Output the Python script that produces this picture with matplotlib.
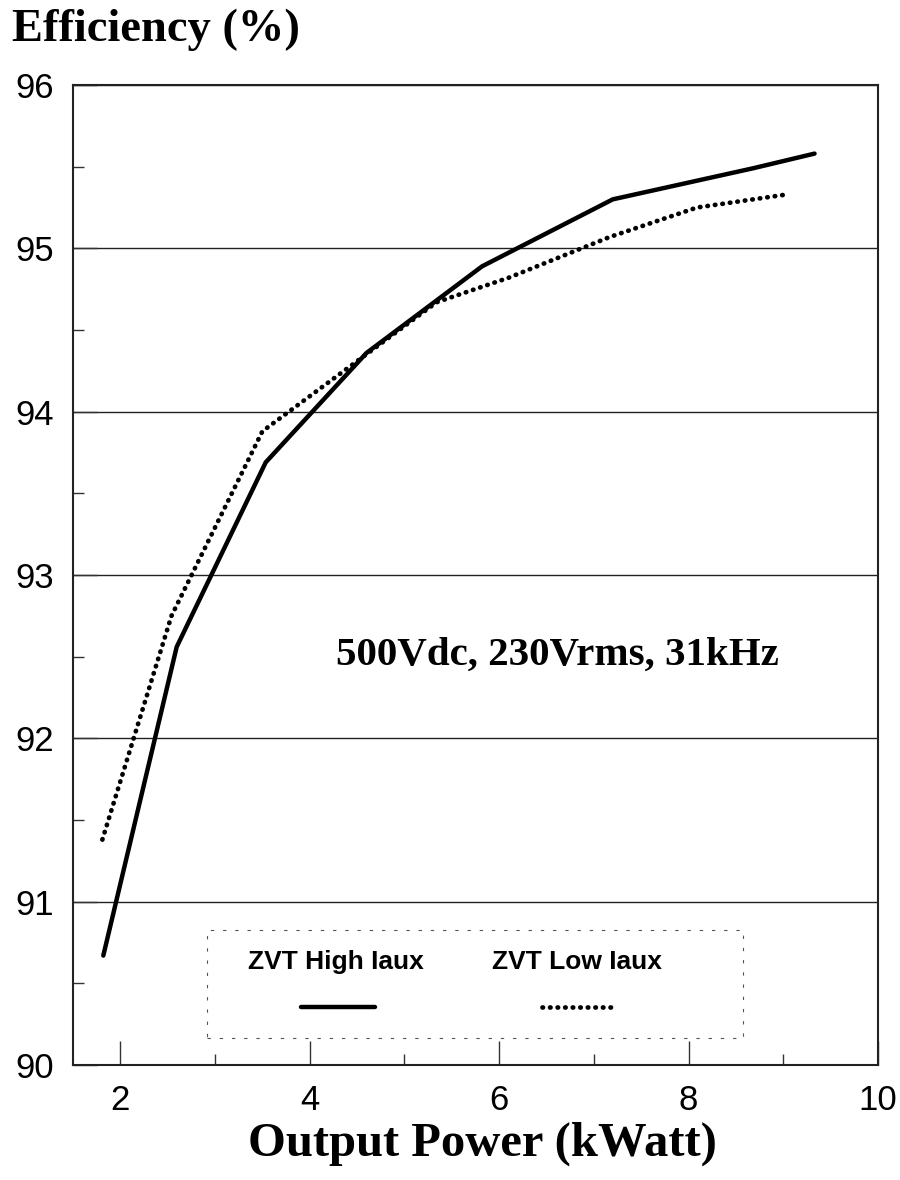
import matplotlib.pyplot as plt
from matplotlib.ticker import MultipleLocator

# Efficiency curves (kW, %)
high_x = [1.82, 2.595, 3.535, 4.60, 5.82, 7.20, 8.68, 9.33]
high_y = [90.67, 92.56, 93.69, 94.36, 94.89, 95.30, 95.49, 95.58]

low_x = [1.81, 2.54, 3.50, 5.34, 6.10, 7.17, 8.09, 9.04]
low_y = [91.38, 92.75, 93.88, 94.67, 94.82, 95.07, 95.25, 95.33]

x_ticks = [2, 4, 6, 8, 10]
y_ticks = [90, 91, 92, 93, 94, 95, 96]

serif = ['Liberation Serif', 'DejaVu Serif']
sans = ['Liberation Sans', 'DejaVu Sans']

DOTS = (0, (0.1, 1.5))


def main():
    fig = plt.figure(figsize=(9, 11.8), dpi=100)
    ax = fig.add_axes([73 / 900, 1 - 1065 / 1180, 805 / 900, 980 / 1180])

    ax.plot(high_x, high_y, color='black', lw=3.2, solid_capstyle='round')
    ax.plot(low_x, low_y, color='black', lw=3.4, linestyle=DOTS,
            dash_capstyle='round')

    ax.set_xlim(1.5, 10)
    ax.set_ylim(90, 96)
    ax.set_xticks(x_ticks)
    ax.set_yticks(y_ticks)
    ax.xaxis.set_minor_locator(MultipleLocator(1))
    ax.yaxis.set_minor_locator(MultipleLocator(0.5))
    ax.tick_params(which='both', direction='in', top=False, right=False,
                   color='#333333', width=1.0)
    ax.tick_params(which='major', length=17, pad=14, labelsize=25)
    ax.tick_params(which='minor', length=8)
    for lab in ax.get_xticklabels() + ax.get_yticklabels():
        lab.set_family(sans)

    ax.grid(axis='y', which='major', color='#222222', lw=1.0)
    for s in ax.spines.values():
        s.set_color('#222222')
        s.set_linewidth(1.5)

    ax.text(6.61, 92.51, '500Vdc, 230Vrms, 31kHz', ha='center', va='center',
            fontsize=29.5, fontweight='bold', family=serif)

    # legend drawn by hand: labels above short line samples, dotted frame
    box = plt.Rectangle((134 / 805, 27 / 980), 536 / 805, 108 / 980,
                        transform=ax.transAxes, fill=False, lw=0.8,
                        ec='#555555', linestyle=(0, (3, 8)))
    ax.add_patch(box)
    ax.text(263 / 805, 103 / 980, 'ZVT High Iaux', transform=ax.transAxes,
            ha='center', va='center', fontsize=19, fontweight='bold', family=sans)
    ax.text(504 / 805, 103 / 980, 'ZVT Low Iaux', transform=ax.transAxes,
            ha='center', va='center', fontsize=19, fontweight='bold', family=sans)
    ax.plot([228 / 805, 302 / 805], [58 / 980, 58 / 980], transform=ax.transAxes,
            color='black', lw=3.2, solid_capstyle='round')
    ax.plot([469 / 805, 541 / 805], [58 / 980, 58 / 980], transform=ax.transAxes,
            color='black', lw=3.4, linestyle=DOTS, dash_capstyle='round')

    fig.text(12 / 900, 1 - 41 / 1180, 'Efficiency (%)', ha='left', va='baseline',
             fontsize=33.5, fontweight='bold', family=serif)
    fig.text(482 / 900, 1 - 1156 / 1180, 'Output Power (kWatt)', ha='center',
             va='baseline', fontsize=35, fontweight='bold', family=serif)

    fig.savefig('out.png', dpi=100)


if __name__ == '__main__':
    main()
